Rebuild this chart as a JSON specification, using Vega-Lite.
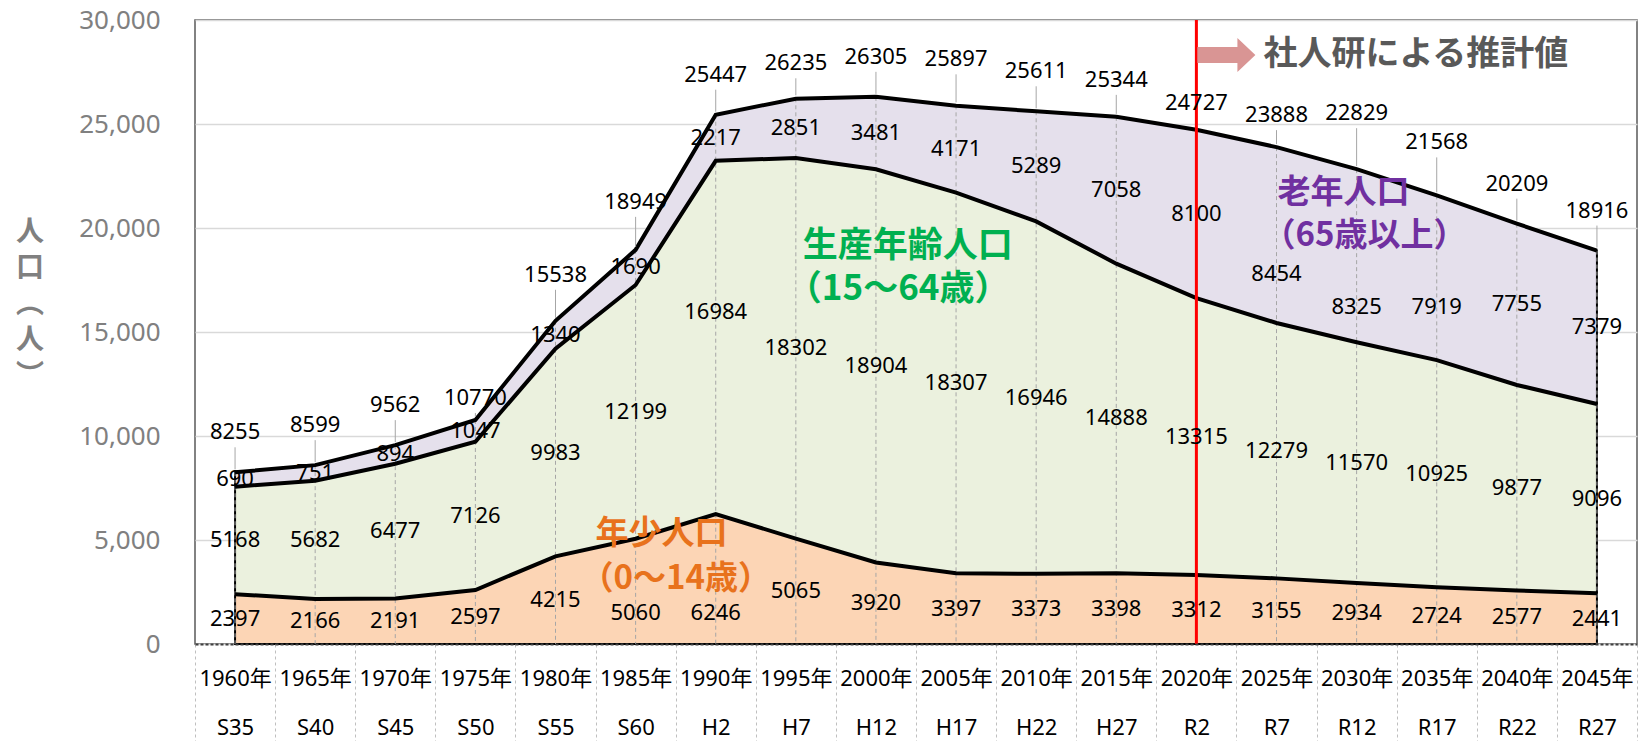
{
  "$schema": "https://vega.github.io/schema/vega-lite/v6.json",
  "width": 1442,
  "height": 624,
  "autosize": {"type": "none"},
  "padding": {"left": 195, "top": 20, "right": 7, "bottom": 97},
  "background": "white",
  "config": {
    "view": {"stroke": "#595959", "strokeWidth": 1.5},
    "font": "Noto Sans, Noto Sans CJK JP"
  },
  "datasets": {
    "pop": [
      {"x": "1960年|S35", "yr": 1960, "grp": "young", "k": 1, "v": 2397},
      {"x": "1960年|S35", "yr": 1960, "grp": "working", "k": 2, "v": 5168},
      {"x": "1960年|S35", "yr": 1960, "grp": "old", "k": 3, "v": 690},
      {"x": "1965年|S40", "yr": 1965, "grp": "young", "k": 1, "v": 2166},
      {"x": "1965年|S40", "yr": 1965, "grp": "working", "k": 2, "v": 5682},
      {"x": "1965年|S40", "yr": 1965, "grp": "old", "k": 3, "v": 751},
      {"x": "1970年|S45", "yr": 1970, "grp": "young", "k": 1, "v": 2191},
      {"x": "1970年|S45", "yr": 1970, "grp": "working", "k": 2, "v": 6477},
      {"x": "1970年|S45", "yr": 1970, "grp": "old", "k": 3, "v": 894},
      {"x": "1975年|S50", "yr": 1975, "grp": "young", "k": 1, "v": 2597},
      {"x": "1975年|S50", "yr": 1975, "grp": "working", "k": 2, "v": 7126},
      {"x": "1975年|S50", "yr": 1975, "grp": "old", "k": 3, "v": 1047},
      {"x": "1980年|S55", "yr": 1980, "grp": "young", "k": 1, "v": 4215},
      {"x": "1980年|S55", "yr": 1980, "grp": "working", "k": 2, "v": 9983},
      {"x": "1980年|S55", "yr": 1980, "grp": "old", "k": 3, "v": 1340},
      {"x": "1985年|S60", "yr": 1985, "grp": "young", "k": 1, "v": 5060},
      {"x": "1985年|S60", "yr": 1985, "grp": "working", "k": 2, "v": 12199},
      {"x": "1985年|S60", "yr": 1985, "grp": "old", "k": 3, "v": 1690},
      {"x": "1990年|H2", "yr": 1990, "grp": "young", "k": 1, "v": 6246},
      {"x": "1990年|H2", "yr": 1990, "grp": "working", "k": 2, "v": 16984},
      {"x": "1990年|H2", "yr": 1990, "grp": "old", "k": 3, "v": 2217},
      {"x": "1995年|H7", "yr": 1995, "grp": "young", "k": 1, "v": 5065},
      {"x": "1995年|H7", "yr": 1995, "grp": "working", "k": 2, "v": 18302},
      {"x": "1995年|H7", "yr": 1995, "grp": "old", "k": 3, "v": 2851},
      {"x": "2000年|H12", "yr": 2000, "grp": "young", "k": 1, "v": 3920},
      {"x": "2000年|H12", "yr": 2000, "grp": "working", "k": 2, "v": 18904},
      {"x": "2000年|H12", "yr": 2000, "grp": "old", "k": 3, "v": 3481},
      {"x": "2005年|H17", "yr": 2005, "grp": "young", "k": 1, "v": 3397},
      {"x": "2005年|H17", "yr": 2005, "grp": "working", "k": 2, "v": 18307},
      {"x": "2005年|H17", "yr": 2005, "grp": "old", "k": 3, "v": 4171},
      {"x": "2010年|H22", "yr": 2010, "grp": "young", "k": 1, "v": 3373},
      {"x": "2010年|H22", "yr": 2010, "grp": "working", "k": 2, "v": 16946},
      {"x": "2010年|H22", "yr": 2010, "grp": "old", "k": 3, "v": 5289},
      {"x": "2015年|H27", "yr": 2015, "grp": "young", "k": 1, "v": 3398},
      {"x": "2015年|H27", "yr": 2015, "grp": "working", "k": 2, "v": 14888},
      {"x": "2015年|H27", "yr": 2015, "grp": "old", "k": 3, "v": 7058},
      {"x": "2020年|R2", "yr": 2020, "grp": "young", "k": 1, "v": 3312},
      {"x": "2020年|R2", "yr": 2020, "grp": "working", "k": 2, "v": 13315},
      {"x": "2020年|R2", "yr": 2020, "grp": "old", "k": 3, "v": 8100},
      {"x": "2025年|R7", "yr": 2025, "grp": "young", "k": 1, "v": 3155},
      {"x": "2025年|R7", "yr": 2025, "grp": "working", "k": 2, "v": 12279},
      {"x": "2025年|R7", "yr": 2025, "grp": "old", "k": 3, "v": 8454},
      {"x": "2030年|R12", "yr": 2030, "grp": "young", "k": 1, "v": 2934},
      {"x": "2030年|R12", "yr": 2030, "grp": "working", "k": 2, "v": 11570},
      {"x": "2030年|R12", "yr": 2030, "grp": "old", "k": 3, "v": 8325},
      {"x": "2035年|R17", "yr": 2035, "grp": "young", "k": 1, "v": 2724},
      {"x": "2035年|R17", "yr": 2035, "grp": "working", "k": 2, "v": 10925},
      {"x": "2035年|R17", "yr": 2035, "grp": "old", "k": 3, "v": 7919},
      {"x": "2040年|R22", "yr": 2040, "grp": "young", "k": 1, "v": 2577},
      {"x": "2040年|R22", "yr": 2040, "grp": "working", "k": 2, "v": 9877},
      {"x": "2040年|R22", "yr": 2040, "grp": "old", "k": 3, "v": 7755},
      {"x": "2045年|R27", "yr": 2045, "grp": "young", "k": 1, "v": 2441},
      {"x": "2045年|R27", "yr": 2045, "grp": "working", "k": 2, "v": 9096},
      {"x": "2045年|R27", "yr": 2045, "grp": "old", "k": 3, "v": 7379}
    ],
    "tot": [
      {"x": "1960年|S35", "t": 8255},
      {"x": "1965年|S40", "t": 8599},
      {"x": "1970年|S45", "t": 9562},
      {"x": "1975年|S50", "t": 10770},
      {"x": "1980年|S55", "t": 15538},
      {"x": "1985年|S60", "t": 18949},
      {"x": "1990年|H2", "t": 25447},
      {"x": "1995年|H7", "t": 26235},
      {"x": "2000年|H12", "t": 26305},
      {"x": "2005年|H17", "t": 25897},
      {"x": "2010年|H22", "t": 25611},
      {"x": "2015年|H27", "t": 25344},
      {"x": "2020年|R2", "t": 24727},
      {"x": "2025年|R7", "t": 23888},
      {"x": "2030年|R12", "t": 22829},
      {"x": "2035年|R17", "t": 21568},
      {"x": "2040年|R22", "t": 20209},
      {"x": "2045年|R27", "t": 18916}
    ]
  },
  "encoding": {
    "x": {
      "field": "x",
      "type": "nominal",
      "bandPosition": 0.5,
      "scale": {
        "type": "band",
        "paddingInner": 0,
        "paddingOuter": 0,
        "domain": ["1960年|S35", "1965年|S40", "1970年|S45", "1975年|S50", "1980年|S55", "1985年|S60", "1990年|H2", "1995年|H7", "2000年|H12", "2005年|H17", "2010年|H22", "2015年|H27", "2020年|R2", "2025年|R7", "2030年|R12", "2035年|R17", "2040年|R22", "2045年|R27"]
      },
      "axis": {
        "title": null,
        "labelExpr": "split(datum.label, '|')",
        "labelFont": "Noto Sans, Noto Sans CJK JP",
        "labelFontSize": 22,
        "labelColor": "#000000",
        "labelLineHeight": 49,
        "labelPadding": -73,
        "labelAngle": 0,
        "labelOverlap": false,
        "labelBound": false,
        "tickBand": "extent",
        "tickSize": 97,
        "tickColor": "#bfbfbf",
        "tickDash": [3, 3],
        "tickWidth": 1,
        "domainColor": "#404040",
        "domainDash": [3, 2],
        "domainWidth": 2,
        "grid": false,
        "zindex": 1
      }
    },
    "y": {
      "type": "quantitative",
      "scale": {"domain": [0, 30000], "nice": false},
      "axis": {
        "values": [0, 5000, 10000, 15000, 20000, 25000, 30000],
        "format": ",d",
        "labelFont": "Noto Sans",
        "labelFontSize": 26,
        "labelColor": "#808080",
        "labelPadding": 35,
        "ticks": false,
        "domain": false,
        "gridColor": "#d9d9d9",
        "gridWidth": 1.5,
        "title": null
      }
    }
  },
  "layer": [
    {
      "data": {"name": "pop"},
      "mark": {"type": "area", "stroke": "#000000", "strokeWidth": 2},
      "encoding": {
        "y": {"field": "v", "type": "quantitative", "stack": "zero"},
        "color": {
          "field": "grp",
          "type": "nominal",
          "scale": {"domain": ["young", "working", "old"], "range": ["#FCD5B5", "#EBF1DE", "#E5E0EC"]},
          "legend": null
        },
        "order": [{"field": "k", "type": "quantitative"}, {"field": "yr", "type": "quantitative"}]
      }
    },
    {
      "data": {"name": "tot"},
      "mark": {"type": "rule", "color": "#a6a6a6", "strokeWidth": 1, "strokeDash": [4, 3]},
      "encoding": {
        "y": {"field": "t", "type": "quantitative"},
        "y2": {"datum": 0}
      }
    },
    {
      "data": {"name": "pop"},
      "mark": {"type": "line", "color": "#000000", "strokeWidth": 4},
      "encoding": {
        "y": {"field": "v", "type": "quantitative", "stack": "zero"},
        "detail": {"field": "grp", "type": "nominal"},
        "order": [{"field": "k", "type": "quantitative"}, {"field": "yr", "type": "quantitative"}]
      }
    },
    {
      "data": {"name": "tot"},
      "mark": {
        "type": "rule", "color": "#a6a6a6", "strokeWidth": 1, "yOffset": -3,
        "y2Offset": {"expr": "(datum.t==10770 ? -22 : datum.t==15538 ? -46 : datum.t==18949 ? -48 : datum.t==26235 ? -35 : datum.t==25897 ? -46 : datum.t==24727 ? -27 : datum.t==23888 ? -32 : datum.t==22829 ? -56 : datum.t==21568 ? -53 : datum.t==25344 ? -37 : -40) + 15"}
      },
      "encoding": {
        "y": {"field": "t", "type": "quantitative"},
        "y2": {"field": "t"}
      }
    },
    {
      "data": {"values": [{}]},
      "mark": {"type": "rule", "color": "#FF0000", "strokeWidth": 3},
      "encoding": {
        "x": {"datum": "2020年|R2", "bandPosition": 0.5}
      }
    },
    {
      "data": {"name": "pop"},
      "mark": {
        "type": "text", "font": "Noto Sans", "fontSize": 22, "color": "#000000", "baseline": "middle",
        "dy": {"expr": "datum.k==1 && datum.yr==1985 ? 22 : datum.k==1 && datum.yr==1990 ? 34 : datum.k==2 && datum.yr==1990 ? -25 : datum.k==3 && datum.yr==2025 ? 39 : datum.k==3 && datum.yr==2030 ? 51 : datum.k==3 && datum.yr==2035 ? 29 : 0"}
      },
      "encoding": {
        "y": {"field": "v", "type": "quantitative", "stack": "zero", "bandPosition": 0.5},
        "detail": {"field": "grp", "type": "nominal"},
        "order": {"field": "k", "type": "quantitative"},
        "text": {"field": "k", "type": "quantitative", "format": "d", "condition": {"test": "true", "field": "v", "type": "quantitative", "format": "d"}}
      }
    },
    {
      "data": {"name": "tot"},
      "mark": {
        "type": "text", "font": "Noto Sans", "fontSize": 22, "color": "#000000", "baseline": "middle",
        "dy": {"expr": "datum.t==10770 ? -22 : datum.t==15538 ? -46 : datum.t==18949 ? -48 : datum.t==26235 ? -35 : datum.t==25897 ? -46 : datum.t==24727 ? -27 : datum.t==23888 ? -32 : datum.t==22829 ? -56 : datum.t==21568 ? -53 : datum.t==25344 ? -37 : -40"}
      },
      "encoding": {
        "y": {"field": "t", "type": "quantitative"},
        "text": {"field": "t", "type": "quantitative", "format": "d"}
      }
    },
    {
      "data": {"values": [{}]},
      "mark": {"type": "text", "text": ["人", "口", "︵", "人", "︶"], "lineHeight": 36, "font": "Noto Sans CJK JP", "fontWeight": "bold", "fontSize": 28, "color": "#808080", "align": "center", "baseline": "middle", "dx": -205},
      "encoding": {
        "x": {"datum": "1960年|S35", "bandPosition": 0.5},
        "y": {"datum": 19760}
      }
    },
    {
      "data": {"values": [{}]},
      "mark": {"type": "text", "text": "年少人口", "font": "Noto Sans CJK JP", "fontWeight": "bold", "fontSize": 33, "color": "#E8721C", "align": "left", "baseline": "middle", "dx": 40},
      "encoding": {
        "x": {"datum": "1980年|S55", "bandPosition": 0.5},
        "y": {"datum": 5300}
      }
    },
    {
      "data": {"values": [{}]},
      "mark": {"type": "text", "text": "（0～14歳）", "font": "Noto Sans CJK JP", "fontWeight": "bold", "fontSize": 33, "color": "#E8721C", "align": "left", "baseline": "middle", "dx": 25},
      "encoding": {
        "x": {"datum": "1980年|S55", "bandPosition": 0.5},
        "y": {"datum": 3137}
      }
    },
    {
      "data": {"values": [{}]},
      "mark": {"type": "text", "text": "生産年齢人口", "font": "Noto Sans CJK JP", "fontWeight": "bold", "fontSize": 35, "color": "#00B050", "align": "left", "baseline": "middle", "dx": 7},
      "encoding": {
        "x": {"datum": "1995年|H7", "bandPosition": 0.5},
        "y": {"datum": 19150}
      }
    },
    {
      "data": {"values": [{}]},
      "mark": {"type": "text", "text": "（15～64歳）", "font": "Noto Sans CJK JP", "fontWeight": "bold", "fontSize": 35, "color": "#00B050", "align": "left", "baseline": "middle", "dx": -9},
      "encoding": {
        "x": {"datum": "1995年|H7", "bandPosition": 0.5},
        "y": {"datum": 17050}
      }
    },
    {
      "data": {"values": [{}]},
      "mark": {"type": "text", "text": "老年人口", "font": "Noto Sans CJK JP", "fontWeight": "bold", "fontSize": 33, "color": "#7030A0", "align": "left", "baseline": "middle", "dx": 1},
      "encoding": {
        "x": {"datum": "2025年|R7", "bandPosition": 0.5},
        "y": {"datum": 21700}
      }
    },
    {
      "data": {"values": [{}]},
      "mark": {"type": "text", "text": "（65歳以上）", "font": "Noto Sans CJK JP", "fontWeight": "bold", "fontSize": 33, "color": "#7030A0", "align": "left", "baseline": "middle", "dx": -14},
      "encoding": {
        "x": {"datum": "2025年|R7", "bandPosition": 0.5},
        "y": {"datum": 19633}
      }
    },
    {
      "data": {"values": [{}]},
      "mark": {"type": "text", "text": "社人研による推計値", "font": "Noto Sans CJK JP", "fontWeight": "bold", "fontSize": 34, "color": "#595959", "align": "left", "baseline": "middle", "dx": 67},
      "encoding": {
        "x": {"datum": "2020年|R2", "bandPosition": 0.5},
        "y": {"datum": 28317}
      }
    },
    {
      "data": {"values": [{}]},
      "mark": {"type": "point", "shape": "M-1,-0.276 L0.38,-0.276 L0.38,-0.586 L1,0 L0.38,0.586 L0.38,0.276 L-1,0.276 Z", "size": 3364, "filled": true, "color": "#D99594", "opacity": 1, "xOffset": 30},
      "encoding": {
        "x": {"datum": "2020年|R2", "bandPosition": 0.5},
        "y": {"datum": 28317}
      }
    }
  ]
}
